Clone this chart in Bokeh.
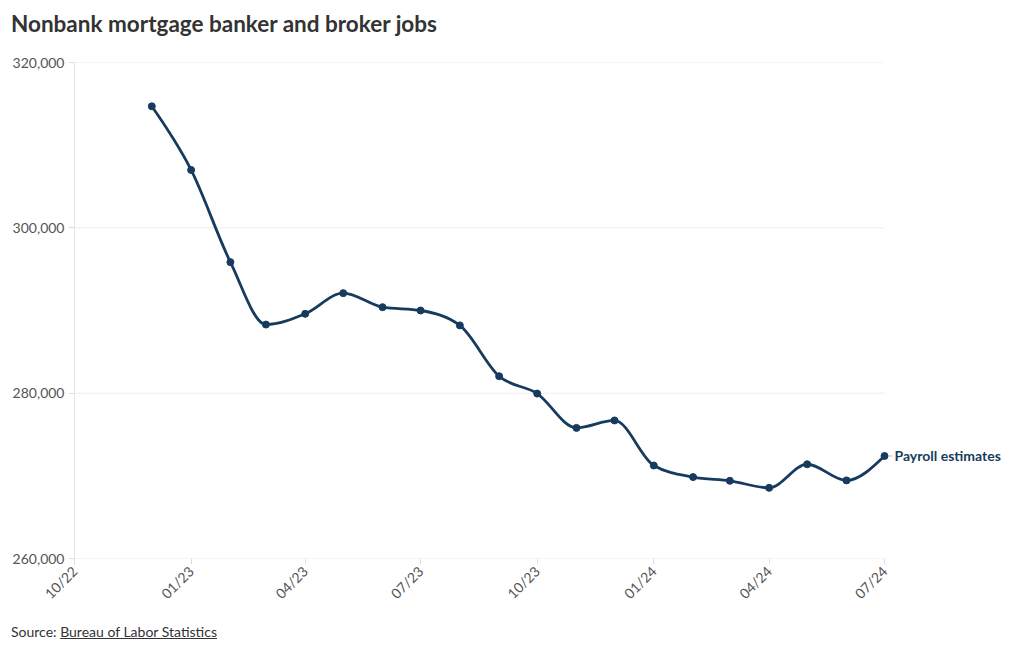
from datetime import datetime
import numpy as np
from bokeh.plotting import figure
from bokeh.layouts import column
from bokeh.models import (Range1d, FixedTicker, DatetimeTickFormatter, NumeralTickFormatter,
                          Label, ColumnDataSource, Div)
from bokeh.embed import file_html
from bokeh.resources import INLINE

# ---- data ----
months = ["2022-12", "2023-01", "2023-02", "2023-03", "2023-04", "2023-05", "2023-06",
          "2023-07", "2023-08", "2023-09", "2023-10", "2023-11", "2023-12", "2024-01",
          "2024-02", "2024-03", "2024-04", "2024-05", "2024-06", "2024-07"]
jobs = [314700, 307000, 295850, 288300, 289600, 292100, 290400, 290000, 288200, 282050,
        279950, 275800, 276700, 271250, 269850, 269400, 268550, 271400, 269450, 272400]
tick_dates = ["2022-10", "2023-01", "2023-04", "2023-07", "2023-10", "2024-01", "2024-04", "2024-07"]
y_ticks = [260000, 280000, 300000, 320000]
title_text = "Nonbank mortgage banker and broker jobs"
series_name = "Payroll estimates"
source_label = "Source:"
source_name = "Bureau of Labor Statistics"

NAVY = "#173b5e"
FONT = "Lato"

def to_ms(s):
    y, m = s.split("-")
    return datetime(int(y), int(m), 1).timestamp() * 1000.0

dates = [datetime(int(s[:4]), int(s[5:]), 1) for s in months]
xs = np.array([to_ms(s) for s in months])
ys = np.array(jobs, dtype=float)

# monotone-X cubic (as d3.curveMonotoneX) expressed as bezier control points
n = len(xs)
t = np.zeros(n)
for i in range(1, n - 1):
    h0 = xs[i] - xs[i - 1]
    h1 = xs[i + 1] - xs[i]
    s0 = (ys[i] - ys[i - 1]) / h0
    s1 = (ys[i + 1] - ys[i]) / h1
    pp = (s0 * h1 + s1 * h0) / (h0 + h1)
    t[i] = (np.sign(s0) + np.sign(s1)) * min(abs(s0), abs(s1), 0.5 * abs(pp))
h = xs[1] - xs[0]
t[0] = (3 * (ys[1] - ys[0]) / h - t[1]) / 2
h = xs[-1] - xs[-2]
t[-1] = (3 * (ys[-1] - ys[-2]) / h - t[-2]) / 2
dx = (xs[1:] - xs[:-1]) / 3.0
bez = ColumnDataSource(dict(
    x0=xs[:-1], y0=ys[:-1], x1=xs[1:], y1=ys[1:],
    cx0=xs[:-1] + dx, cy0=ys[:-1] + dx * t[:-1],
    cx1=xs[1:] - dx, cy1=ys[1:] - dx * t[1:],
))

# layout: frame from x=74 to 1012 px; axis span (10/22 .. 07/24) covers 810 px
x_start = to_ms(tick_dates[0])
x_axis_end = to_ms(tick_dates[-1])
ms_per_px = (x_axis_end - x_start) / 810.0
x_end = x_axis_end + 134 * ms_per_px

p = figure(width=1020, height=570, x_axis_type="datetime",
           x_range=Range1d(x_start, x_end),
           y_range=Range1d(y_ticks[0], y_ticks[-1]),
           output_backend="svg", toolbar_location=None,
           min_border_left=74, min_border_right=2, min_border_top=12, min_border_bottom=62)
p.outline_line_color = None
p.background_fill_color = "white"
p.border_fill_color = "white"

# horizontal gridlines, only across the dated span
p.segment(x0=[x_start] * len(y_ticks), x1=[x_axis_end] * len(y_ticks), y0=y_ticks, y1=y_ticks,
          line_color="#ececec", line_width=1)

p.bezier(x0="x0", y0="y0", x1="x1", y1="y1", cx0="cx0", cy0="cy0", cx1="cx1", cy1="cy1",
         source=bez, line_color=NAVY, line_width=2.8)
p.scatter(dates, jobs, size=7, fill_color=NAVY, line_color=NAVY)

# connector between last point and its label
p.segment(x0=[xs[-1] + 4 * ms_per_px], x1=[xs[-1] + 8 * ms_per_px], y0=[ys[-1]], y1=[ys[-1]],
          line_color="#bbbbbb", line_width=1)

# axes
p.xaxis.ticker = FixedTicker(ticks=[to_ms(s) for s in tick_dates])
fmt = "%m/%y"
p.xaxis.formatter = DatetimeTickFormatter(years=fmt, months=fmt, days=fmt, hours=fmt,
                                          minutes=fmt, seconds=fmt, milliseconds=fmt,
                                          microseconds=fmt, hourmin=fmt, minsec=fmt)
p.xaxis.major_label_orientation = np.pi / 4
p.yaxis.ticker = FixedTicker(ticks=y_ticks)
p.yaxis.formatter = NumeralTickFormatter(format="0,0")
for ax in (p.xaxis[0], p.yaxis[0]):
    ax.axis_line_color = "#e6e6e6"
    ax.major_tick_line_color = "#dddddd"
    ax.major_tick_out = 6
    ax.major_tick_in = 0
    ax.minor_tick_line_color = None
    ax.major_label_text_font = FONT
    ax.major_label_text_font_size = "14px"
    ax.major_label_text_color = "#555555"
p.yaxis.major_label_standoff = 4
p.xaxis.major_label_standoff = 4
p.xaxis.axis_line_color = None

p.xgrid.grid_line_color = None
p.ygrid.grid_line_color = None

# series label
p.add_layout(Label(x=xs[-1], y=ys[-1], x_offset=10, text=series_name,
                   text_font=FONT, text_font_style="bold", text_font_size="14px",
                   text_color=NAVY, text_baseline="middle", text_align="left"))

title_div = Div(text=f'<div style="font-family:Lato;font-weight:bold;font-size:22.5px;'
                     f'line-height:26px;color:#333333;padding:11px 0 0 11px;white-space:nowrap">'
                     f'{title_text}</div>',
                width=1020, height=50, margin=(0, 0, 0, 0))
source_div = Div(text=f'<div style="font-family:Lato;font-size:14px;line-height:16px;'
                      f'color:#333333;padding:4px 0 0 11px;white-space:nowrap">'
                      f'{source_label} <u>{source_name}</u></div>',
                 width=1020, height=30, margin=(0, 0, 0, 0))

layout = column(title_div, p, source_div, spacing=0, margin=(0, 0, 0, 0))
open("out.html", "w").write(file_html(layout, INLINE))
